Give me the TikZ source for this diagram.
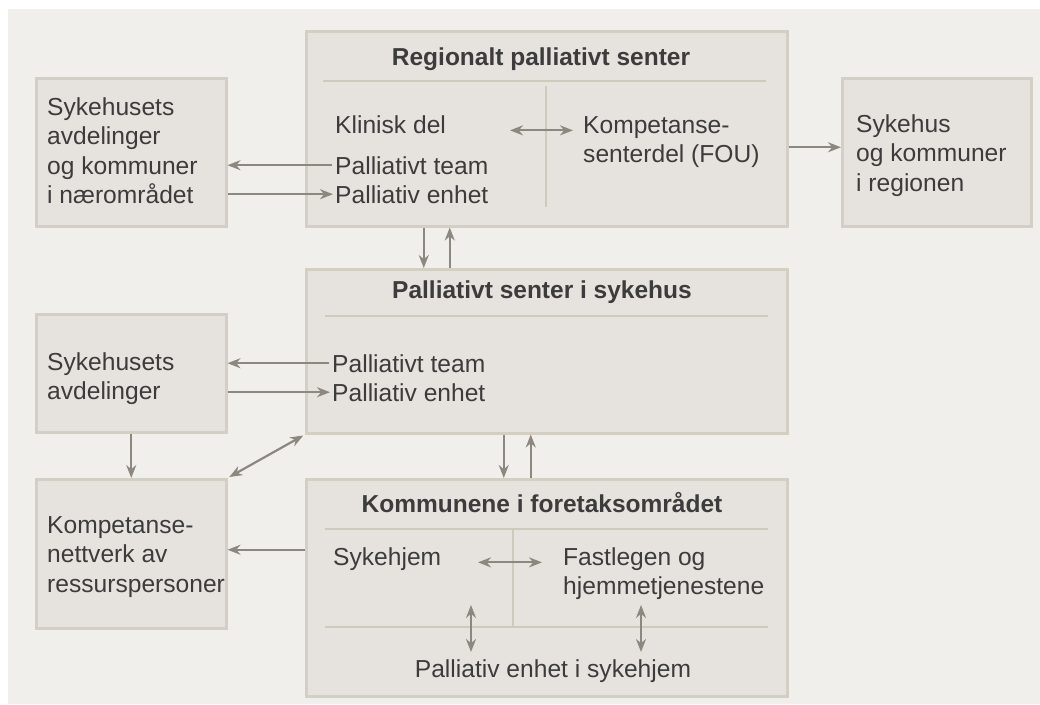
\documentclass[tikz,border=0pt]{standalone}
\usepackage{fontspec}
\setmainfont{Liberation Sans}
\usepackage{tikz}
\usetikzlibrary{arrows.meta,calc}
\usepackage{xcolor}
\definecolor{bakgrunn}{RGB}{240,239,235}
\definecolor{boksfyll}{RGB}{230,226,221}
\definecolor{boksramme}{RGB}{212,207,197}
\definecolor{skillelinje}{RGB}{208,201,189}
\definecolor{pilfarge}{RGB}{140,136,128}
\definecolor{tekstfarge}{RGB}{60,60,60}
\newcommand{\linjer}[1]{\begin{tabular}[t]{@{}l@{}}#1\end{tabular}}

\begin{document}
\begin{tikzpicture}[x=1pt,y=-1pt,
  font=\fontsize{24.6}{29.5}\selectfont,
  boks/.style={draw=boksramme,line width=2.5pt,fill=boksfyll,anchor=north west,inner sep=0pt},
  skille/.style={draw=skillelinje,line width=2pt},
  pil/.style={draw=pilfarge,line width=2.2pt,-{Stealth[length=13pt,width=10pt]}},
  dpil/.style={pil,{Stealth[length=13pt,width=10pt]}-{Stealth[length=13pt,width=10pt]}},
  tekst/.style={anchor=base west,inner sep=0pt,text=tekstfarge},
  tittel/.style={anchor=base,inner sep=0pt,text=tekstfarge,font=\fontsize{24.5}{30}\selectfont\bfseries}]
\useasboundingbox (0,0) rectangle (1040,704);
\fill[bakgrunn] (8,9) rectangle (1040,704);

% Regionalt senter
\node[boks,minimum width=481pt,minimum height=195pt] (regional) at (305,30) {};
\node[tittel] (regtittel) at (541,65) {Regionalt palliativt senter};
\draw[skille] (323,81) -- (766,81);
\draw[skille] (546,86) -- (546,207);
\node[tekst] (klinisk) at (335,133) {Klinisk del};
\node[tekst] (kompetanse) at (583,133) {\linjer{Kompetanse-\\senterdel (FOU)}};
\node[tekst] (rteam) at (335,174) {Palliativt team};
\node[tekst] (renhet) at (335,203) {Palliativ enhet};
\draw[dpil] ([xshift=-73pt]kompetanse.mid west) -- ([xshift=-10pt]kompetanse.mid west);

% Sidebokser oppe
\node[boks,minimum width=190pt,minimum height=148pt] (naer) at (35,77) {};
\node[tekst] (naertekst) at (47,115) {\linjer{Sykehusets\\avdelinger\\og kommuner\\i nærområdet}};
\node[boks,minimum width=189pt,minimum height=148pt] (region) at (841,77) {};
\node[tekst] (regiontekst) at (856,132) {\linjer{Sykehus\\og kommuner\\i regionen}};
\draw[pil] ([xshift=-3pt]rteam.west) -- (rteam.west -| naer.east);
\draw[pil] (naer.east |- renhet.west) -- ([xshift=-2pt]renhet.west);
\coordinate (utpil) at ([yshift=5pt]region.west);
\draw[pil] (regional.east |- utpil) -- (utpil);

% Senter i sykehus
\node[boks,minimum width=481pt,minimum height=164pt] (sykehus) at (305,268) {};
\node[tittel] (sykehustittel) at (542,298) {Palliativt senter i sykehus};
\draw[skille] (325,316) -- (768,316);
\node[tekst] (steam) at (332,372) {Palliativt team};
\node[tekst] (senhet) at (332,401) {Palliativ enhet};
\draw[pil] ([xshift=-123pt]regional.south) -- ([xshift=-123pt]sykehus.north);
\draw[pil] ([xshift=-97pt]sykehus.north) -- ([xshift=-97pt]regional.south);

\node[boks,minimum width=190pt,minimum height=118pt] (avd) at (35,313) {};
\node[tekst] (avdtekst) at (47,370) {\linjer{Sykehusets\\avdelinger}};
\draw[pil] ([xshift=-3pt]steam.west) -- (steam.west -| avd.east);
\draw[pil] (avd.east |- senhet.west) -- ([xshift=-2pt]senhet.west);

% Kommunene
\node[boks,minimum width=481pt,minimum height=217pt] (kommune) at (305,478) {};
\node[tittel] (kommunetittel) at (542,512) {Kommunene i foretaksområdet};
\draw[skille] (325,529) -- (768,529);
\draw[skille] (513,529) -- (513,627);
\draw[skille] (325,627) -- (768,627);
\node[tekst] (sykehjem) at (333,565) {Sykehjem};
\node[tekst] (fastlegen) at (563,565) {\linjer{Fastlegen og\\hjemmetjenestene}};
\node[tittel,font=\fontsize{24.6}{30}\selectfont] (enhetsykehjem) at (553,677) {Palliativ enhet i sykehjem};
\draw[dpil] ([xshift=-85pt]fastlegen.mid west) -- ([xshift=-21pt]fastlegen.mid west);
\draw[dpil] ([xshift=-82pt,yshift=54pt]enhetsykehjem.north) -- ([xshift=-82pt,yshift=7pt]enhetsykehjem.north);
\draw[dpil] ([xshift=88pt,yshift=54pt]enhetsykehjem.north) -- ([xshift=88pt,yshift=7pt]enhetsykehjem.north);
\draw[pil] ([xshift=-43pt]sykehus.south) -- ([xshift=-43pt]kommune.north);
\draw[pil] ([xshift=-16pt]kommune.north) -- ([xshift=-16pt]sykehus.south);

\node[boks,minimum width=190pt,minimum height=149pt] (nettverk) at (35,478) {};
\node[tekst] (nettverktekst) at (47,533) {\linjer{Kompetanse-\\nettverk av\\ressurspersoner}};
\draw[pil] (avd.south) -- (nettverk.north);
\draw[dpil,shorten <=2pt,shorten >=2pt] (nettverk.north east) -- (sykehus.south west);
\coordinate (innpil) at ([yshift=4pt]nettverk.east);
\draw[pil] (kommune.west |- innpil) -- (innpil);
\end{tikzpicture}
\end{document}
